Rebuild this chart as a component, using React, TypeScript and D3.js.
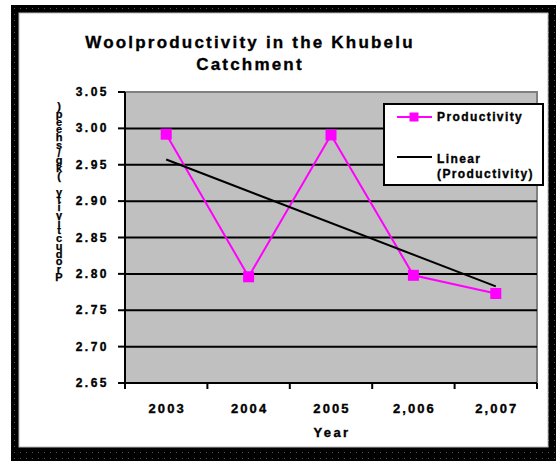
import React from "react";
import * as d3 from "d3";

const years: string[] = ["2003", "2004", "2005", "2,006", "2,007"];
const productivity: number[] = [2.992, 2.796, 2.991, 2.798, 2.773];
const yTicks: number[] = [2.65, 2.7, 2.75, 2.8, 2.85, 2.9, 2.95, 3.0, 3.05];
const titleLines: string[] = ["Woolproductivity in the Khubelu", "Catchment"];
const yAxisLabel = "Productivity (kg/sheep)";
const xAxisLabel = "Year";
const legendLabels: string[] = ["Productivity", "Linear", "(Productivity)"];

const W = 556;
const H = 461;
const plot = { left: 125, right: 537, top: 92, bottom: 383 };
const FONT = "'Liberation Sans', Arial, sans-serif";

export default function App() {
  const x = d3.scaleBand<string>().domain(years).range([plot.left, plot.right]);
  const y = d3.scaleLinear().domain([2.65, 3.05]).range([plot.bottom, plot.top]);
  const cx = (i: number) => (x(years[i]) as number) + x.bandwidth() / 2;

  // linear trend (least squares over category index 1..n)
  const n = productivity.length;
  const xs = productivity.map((_, i) => i + 1);
  const mx = d3.mean(xs) as number;
  const my = d3.mean(productivity) as number;
  const slope =
    d3.sum(xs.map((xi, i) => (xi - mx) * (productivity[i] - my))) /
    d3.sum(xs.map((xi) => (xi - mx) ** 2));
  const intercept = my - slope * mx;
  const trend = [0, n - 1].map((i) => ({ i, v: intercept + slope * (i + 1) }));

  const line = d3
    .line<number>()
    .x((_, i) => cx(i))
    .y((d) => y(d));

  const chars = yAxisLabel.split("");
  const charY = d3
    .scalePoint<number>()
    .domain(chars.map((_, i) => i))
    .range([277, 106]);

  const boundaries = d3.range(years.length + 1).map((i) =>
    i < years.length ? (x(years[i]) as number) : plot.right
  );

  const heavy = { stroke: "#000", strokeWidth: 0.35 };

  return (
    <svg
      width={W}
      height={H}
      style={{ position: "absolute", left: 0, top: 0, display: "block" }}
      fontFamily={FONT}
      fontWeight="bold"
    >
      <defs>
        <pattern id="dots" width="6" height="6" patternUnits="userSpaceOnUse">
          <rect width="6" height="6" fill="#000" />
          <rect x="2" y="2" width="1" height="1" fill="#555" />
        </pattern>
      </defs>
      {/* outer frame */}
      <rect x={11} y={5} width={W - 11} height={H - 5} fill="url(#dots)" />
      <rect x={19} y={13} width={529} height={434} fill="#fff" stroke="#bbb" strokeWidth={1} />

      {/* title */}
      {titleLines.map((t, i) => (
        <text
          key={t}
          x={250}
          y={48 + i * 22}
          textAnchor="middle"
          fontSize={17}
          letterSpacing={2.2}
          fill="#000"
          {...heavy}
        >
          {t}
        </text>
      ))}

      {/* plot area */}
      <rect
        x={plot.left}
        y={plot.top}
        width={plot.right - plot.left}
        height={plot.bottom - plot.top}
        fill="#c0c0c0"
      />
      <path
        d={`M${plot.left},${plot.top}H${plot.right}V${plot.bottom}`}
        fill="none"
        stroke="#808080"
        strokeWidth={2}
      />
      {/* gridlines */}
      {yTicks
        .filter((t) => t > 2.65 && t < 3.05)
        .map((t) => (
          <line
            key={t}
            x1={plot.left}
            x2={plot.right}
            y1={y(t)}
            y2={y(t)}
            stroke="#000"
            strokeWidth={2}
          />
        ))}
      {/* y axis */}
      <line x1={plot.left} x2={plot.left} y1={plot.top} y2={plot.bottom} stroke="#000" strokeWidth={2} />
      {yTicks.map((t) => (
        <g key={t}>
          <line x1={plot.left - 7} x2={plot.left} y1={y(t)} y2={y(t)} stroke="#000" strokeWidth={2} />
          <text
            x={109}
            y={y(t) + 4}
            textAnchor="end"
            fontSize={12}
            letterSpacing={2.5}
            fill="#000"
            {...heavy}
          >
            {t.toFixed(2)}
          </text>
        </g>
      ))}
      {/* x axis */}
      <line x1={plot.left} x2={plot.right} y1={plot.bottom} y2={plot.bottom} stroke="#000" strokeWidth={2} />
      {boundaries.map((b, i) => (
        <line key={i} x1={b} x2={b} y1={plot.bottom} y2={plot.bottom + 6} stroke="#000" strokeWidth={2} />
      ))}
      {years.map((yr, i) => (
        <text key={yr} x={cx(i) + 1} y={413} textAnchor="middle" fontSize={13} letterSpacing={2.1} fill="#000" {...heavy}>
          {yr}
        </text>
      ))}
      <text
        x={(plot.left + plot.right) / 2 + 1}
        y={437}
        textAnchor="middle"
        fontSize={13}
        letterSpacing={2.4}
        fill="#000"
        {...heavy}
      >
        {xAxisLabel}
      </text>

      {/* y axis label: stacked characters, bottom to top */}
      {chars.map((c, i) => (
        <text
          key={i}
          x={59}
          y={(charY(i) as number) + 4}
          textAnchor="middle"
          fontSize={11}
          fill="#000"
          stroke="#000"
          strokeWidth={0.25}
        >
          {c}
        </text>
      ))}

      {/* series */}
      <path d={line(productivity) || ""} fill="none" stroke="#ff00ff" strokeWidth={2} />
      <line
        x1={cx(trend[0].i)}
        y1={y(trend[0].v)}
        x2={cx(trend[1].i)}
        y2={y(trend[1].v)}
        stroke="#000"
        strokeWidth={2}
      />
      {productivity.map((v, i) => (
        <rect key={i} x={cx(i) - 5.5} y={y(v) - 5.5} width={11} height={11} fill="#ff00ff" />
      ))}

      {/* legend */}
      <rect x={384} y={104} width={159} height={81} fill="#fff" stroke="#000" strokeWidth={2} />
      <line x1={397} x2={432} y1={117} y2={117} stroke="#ff00ff" strokeWidth={2} />
      <rect x={409.5} y={112.5} width={9} height={9} fill="#ff00ff" />
      <text x={437} y={121} fontSize={12} letterSpacing={1.4} fill="#000" {...heavy}>
        {legendLabels[0]}
      </text>
      <line x1={397} x2={432} y1={157} y2={157} stroke="#000" strokeWidth={2} />
      <text x={437} y={163} fontSize={12} letterSpacing={1.4} fill="#000" {...heavy}>
        {legendLabels[1]}
      </text>
      <text x={437} y={178} fontSize={12} letterSpacing={1.4} fill="#000" {...heavy}>
        {legendLabels[2]}
      </text>
    </svg>
  );
}
